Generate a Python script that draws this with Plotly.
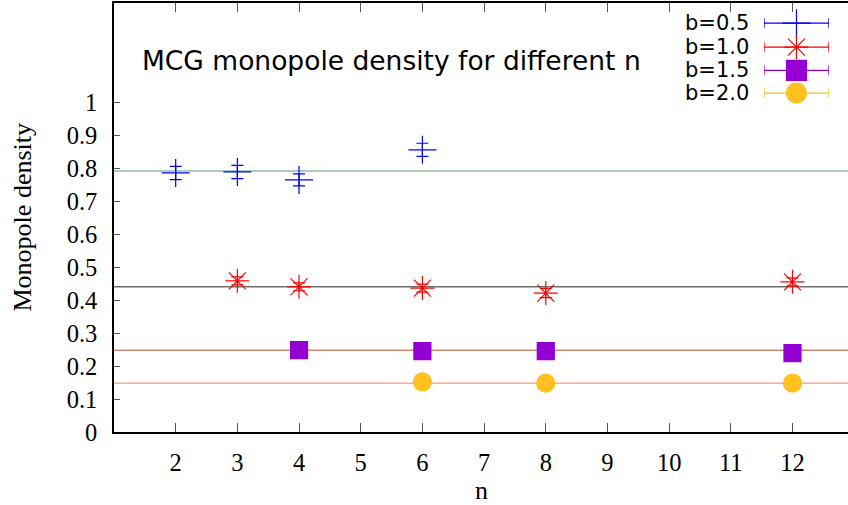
import plotly.graph_objects as go

# ---- data ----
labels = ["b=0.5", "b=1.0", "b=1.5", "b=2.0"]
n_05 = [2, 3, 4, 6]
y_05 = [0.785, 0.788, 0.764, 0.855]
e_05 = [0.02, 0.02, 0.018, 0.02]
n_10 = [3, 4, 6, 8, 12]
y_10 = [0.458, 0.440, 0.436, 0.421, 0.455]
e_10 = [0.012, 0.012, 0.012, 0.014, 0.012]
n_15 = [4, 6, 8, 12]
y_15 = [0.248, 0.245, 0.245, 0.239]
e_15 = [0.008, 0.008, 0.008, 0.008]
n_20 = [6, 8, 12]
y_20 = [0.152, 0.148, 0.148]
e_20 = [0.006, 0.006, 0.006]
ref_lines = [0.791, 0.440, 0.248, 0.148]
x_ticks = [2, 3, 4, 5, 6, 7, 8, 9, 10, 11, 12]
y_ticks = [0, 0.1, 0.2, 0.3, 0.4, 0.5, 0.6, 0.7, 0.8, 0.9, 1]

colors = ["#0000ff", "#ff0000", "#9400d3", "#ffc020"]
line_colors = ["#8fc0a0", "#6e6e6e", "#d08a70", "#ffaa90"]
symbols = ["cross-thin", "asterisk", "square", "circle"]
sizes = [20, 20, 17, 18]
legend_sizes = [20, 20, 20, 20]

series = [(n_05, y_05, e_05), (n_10, y_10, e_10), (n_15, y_15, e_15), (n_20, y_20, e_20)]

fig = go.Figure()

for i, (xs, ys, es) in enumerate(series):
    fig.add_trace(go.Scatter(
        x=xs, y=ys, mode="markers", name=labels[i], showlegend=False,
        marker=dict(symbol=symbols[i], size=sizes[i], color=colors[i],
                    line=dict(color=colors[i], width=1.2)),
        error_y=dict(type="data", array=es, color=colors[i], thickness=1.2, width=6),
    ))

# custom legend drawn on a separate hidden axis pair
legend_rows = [0.953, 0.897, 0.843, 0.79]
for i in range(4):
    fig.add_trace(go.Scatter(
        x=[0.5], y=[legend_rows[i]], xaxis="x2", yaxis="y2", mode="markers",
        showlegend=False, hoverinfo="skip",
        marker=dict(symbol=symbols[i], size=legend_sizes[i], color=colors[i],
                    line=dict(color=colors[i], width=1.2)),
        error_x=dict(type="data", array=[0.5], color=colors[i], thickness=1.2, width=5),
    ))
    fig.add_annotation(x=0, y=legend_rows[i], xref="x2", yref="y2", text=labels[i],
                       showarrow=False, xanchor="right", xshift=-13,
                       font=dict(family="DejaVu Sans", size=21, color="black"))

for i, v in enumerate(ref_lines):
    fig.add_shape(type="line", xref="paper", x0=0, x1=1, yref="y", y0=v, y1=v,
                  line=dict(color=line_colors[i], width=1.5), layer="below")

fig.add_annotation(xref="paper", yref="paper", x=0.035, y=0.867,
                   text="MCG monopole density for different n",
                   showarrow=False, xanchor="left", yanchor="middle",
                   font=dict(family="DejaVu Sans", size=26.5, color="black"))

serif = dict(family="Liberation Serif", size=24.5, color="black")
title_font = dict(family="Liberation Serif", size=26, color="black")

# axis titles
fig.add_annotation(xref="paper", yref="paper", x=0, y=0.5, xshift=-92, text="Monopole density",
                   textangle=-90, showarrow=False, xanchor="center", yanchor="middle",
                   font=title_font)
fig.add_annotation(xref="paper", yref="paper", x=0.5, y=0, yshift=-58, text="n",
                   showarrow=False, xanchor="center", yanchor="middle", font=title_font)

fig.update_layout(
    width=848, height=505,
    margin=dict(l=114, r=0, t=3, b=73),
    plot_bgcolor="rgba(0,0,0,0)", paper_bgcolor="white",
    xaxis=dict(range=[1, 12.9], tickvals=x_ticks, ticks="inside", ticklen=9, tickcolor="#555",
               showline=True, linecolor="black", linewidth=1.5, mirror="ticks",
               showgrid=False, zeroline=False, tickfont=serif, automargin=False,
               ticklabelstandoff=8),
    yaxis=dict(range=[0, 1.3], tickvals=y_ticks, ticktext=[f"{t:g}" for t in y_ticks],
               ticks="inside", ticklen=6, tickcolor="#555",
               showline=True, linecolor="black", linewidth=1.5, mirror=True,
               showgrid=False, zeroline=False, tickfont=serif, automargin=False,
               ticklabelstandoff=10),
    xaxis2=dict(domain=[0.8856, 0.974], range=[0, 1], anchor="y2", visible=False),
    yaxis2=dict(domain=[0, 1], range=[0, 1], anchor="x2", visible=False),
)
fig.write_html("out.html", config={"displayModeBar": False},
               post_script="document.body.style.margin='0';")
